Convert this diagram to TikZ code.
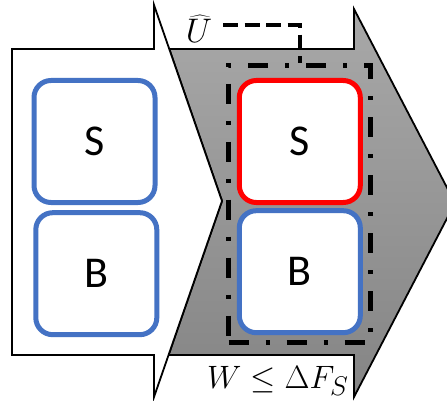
\documentclass[tikz,border=0pt]{standalone}
\usepackage{graphicx}
\usepackage{fontspec}
\setmainfont{Carlito}
\definecolor{cellblue}{HTML}{4472C4}
\definecolor{cellred}{HTML}{FF0000}
\begin{document}
\begin{tikzpicture}[x=1pt,y=-1pt,
  stage/.style={draw=black, line width=1.8pt, line join=miter},
  cell/.style={draw=cellblue, line width=5pt, rounded corners=17pt,
    fill=white, minimum width=121pt, minimum height=122pt, inner sep=0pt,
    font=\fontsize{44}{44}\selectfont},
  hotcell/.style={cell, draw=cellred},
  group/.style={draw=black, line width=5pt, dash pattern=on 20pt off 17pt on 4pt off 17pt,
    minimum width=142pt, minimum height=277.5pt, inner sep=0pt},
  link/.style={draw=black, line width=4pt, dash pattern=on 15pt off 6.5pt},
  label/.style={inner sep=0pt, font=\Huge}]
\clip (0,0) rectangle (447,401);

% shaded process arrow (behind)
\fill[top color=black!34, bottom color=black!48, shading angle=0]
  (169.3,49) -- (354,49) -- (354,9) -- (455,203) -- (354,397) -- (354,355)
  -- (168.6,355) -- (222,201) -- cycle;
\draw[stage]
  (169.3,49) -- (354,49) -- (354,9) -- (455,203) -- (354,397) -- (354,355)
  -- (168.6,355) -- (222,201) -- cycle;

% white initial-state arrow (front)
\draw[stage, fill=white]
  (12,49) -- (154,49) -- (154,5) -- (222,201) -- (154,397) -- (154,355)
  -- (12,355) -- cycle;

% left: system and bath
\node[cell] (s1) at (94.5,141.5) {S};
\node[cell] (b1) at (96.3,273.7) {B};

% right: driven system and bath
\node[hotcell] (s2) at (299.8,141.5) {S};
\node[cell] (b2) at (299.8,271.7) {B};

% enclosing dash-dot group
\node[group] (grp) at (299.5,203.8) {};

% control unitary label and its link
\node[label, anchor=base] (uhat) at (199,43) {\scalebox{1.37}{$\widehat{U}$}};
\coordinate (ustart) at (223,25.3);
\coordinate (tap) at (299.7,0);
\draw[link] (ustart) -| (tap |- grp.north);

% work bound
\node[label, anchor=base west] (bound) at (207,388)
  {\scalebox{1.3}{$W \le \Delta F_S$}};
\end{tikzpicture}
\end{document}
